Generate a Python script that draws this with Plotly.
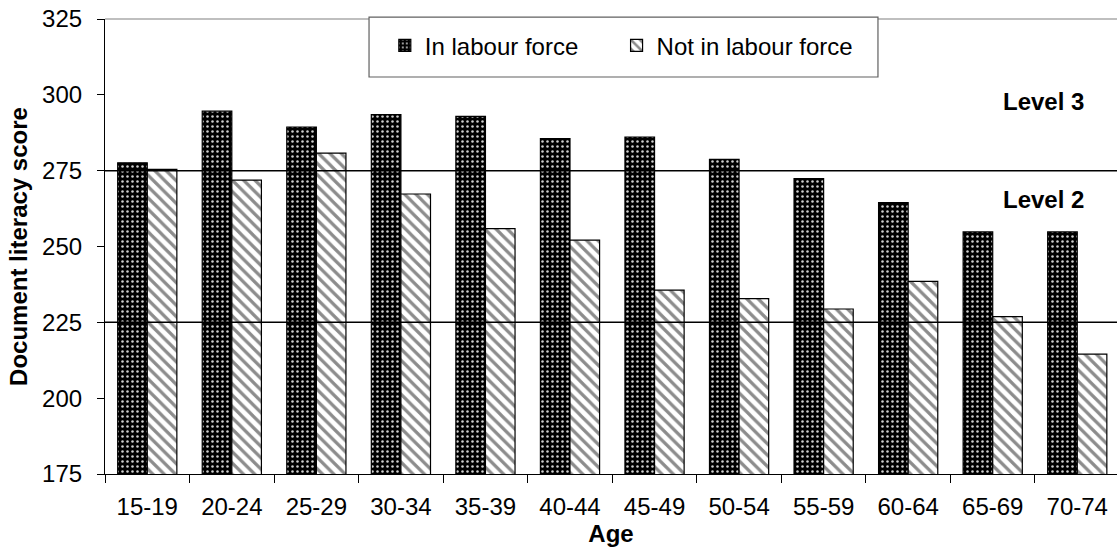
import plotly.graph_objects as go

age_groups = ["15-19", "20-24", "25-29", "30-34", "35-39", "40-44",
              "45-49", "50-54", "55-59", "60-64", "65-69", "70-74"]
in_labour_force = [277.6, 294.6, 289.4, 293.5, 292.9, 285.6,
                   286.1, 278.7, 272.4, 264.5, 254.8, 254.8]
not_in_labour_force = [275.4, 271.9, 280.8, 267.3, 255.9, 252.1,
                       235.6, 232.8, 229.4, 238.5, 226.9, 214.5]
y_ticks = [175, 200, 225, 250, 275, 300, 325]
level_boundaries = [225, 275]
level_labels = ["Level 3", "Level 2"]
level_label_y = [297.7, 265.6]

FONT = "Liberation Sans, Arial, sans-serif"

fig = go.Figure()
fig.add_trace(go.Bar(
    x=age_groups, y=in_labour_force, name="In labour force", legend="legend",
    marker=dict(color="black", line=dict(color="black", width=1.2),
                pattern=dict(shape=".", fillmode="replace", bgcolor="black",
                             fgcolor="#cfcfcf", size=5, solidity=0.2)),
))
fig.add_trace(go.Bar(
    x=age_groups, y=not_in_labour_force, name="Not in labour force", legend="legend2",
    marker=dict(color="white", line=dict(color="black", width=1.2),
                pattern=dict(shape="\\", fillmode="replace", bgcolor="white",
                             fgcolor="#8c8c8c", size=8, solidity=0.4)),
))

shapes = []
for v in level_boundaries:
    shapes.append(dict(type="line", xref="paper", yref="y", x0=0, x1=1, y0=v, y1=v,
                       line=dict(color="black", width=1.5), layer="above"))
# top frame line
shapes.append(dict(type="line", xref="paper", yref="paper", x0=0, x1=1, y0=1, y1=1,
                   line=dict(color="#808080", width=1.2), layer="above"))
# legend box
shapes.append(dict(type="rect", xref="paper", yref="paper", x0=0.2609, x1=0.7638,
                   y0=0.8725, y1=1.004, fillcolor="white",
                   line=dict(color="#606060", width=1.2), layer="above"))

annotations = []
for txt, yv in zip(level_labels, level_label_y):
    annotations.append(dict(text="<b>%s</b>" % txt, xref="paper", yref="y", x=0.927, y=yv,
                            showarrow=False, font=dict(family=FONT, size=24, color="black"),
                            xanchor="center", yanchor="middle"))

legend_common = dict(orientation="h", y=0.941, xanchor="left", yanchor="middle",
                     bgcolor="rgba(0,0,0,0)", borderwidth=0,
                     font=dict(family=FONT, size=24, color="black"))

fig.update_layout(
    width=1117, height=549,
    margin=dict(l=105, r=0, t=19, b=75),
    paper_bgcolor="white", plot_bgcolor="white",
    barmode="group", bargap=0.30, bargroupgap=0,
    font=dict(family=FONT, size=24, color="black"),
    shapes=shapes, annotations=annotations,
    showlegend=True,
    legend=dict(x=0.2765, **legend_common),
    legend2=dict(x=0.5055, **legend_common),
    xaxis=dict(range=[-0.5, 11.47], tickson="boundaries", ticks="outside", ticklen=8,
               tickcolor="black", showline=True, linecolor="black", linewidth=1.2,
               showgrid=False, ticklabelstandoff=11,
               tickfont=dict(family=FONT, size=24, color="black"),
               title=dict(text="<b>Age</b>", standoff=2,
                          font=dict(family=FONT, size=24, color="black"))),
    yaxis=dict(range=[175, 325], tickvals=y_ticks, ticks="outside", ticklen=7,
               tickcolor="black", showline=True, linecolor="black", linewidth=1.2,
               showgrid=False, zeroline=False, ticklabelstandoff=10,
               tickfont=dict(family=FONT, size=24, color="black"),
               title=dict(text="<b>Document literacy score</b>", standoff=7,
                          font=dict(family=FONT, size=24, color="black"))),
)

fig.write_html("out.html", config={"displayModeBar": False},
               post_script="document.body.style.margin='0';document.body.style.overflow='hidden';")
